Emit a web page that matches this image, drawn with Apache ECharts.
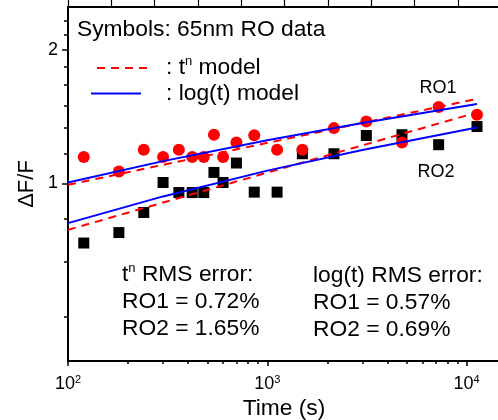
<!DOCTYPE html>
<html><head><meta charset="utf-8">
<script src="https://cdn.jsdelivr.net/npm/echarts@6/dist/echarts.min.js"></script>
<style>html,body{margin:0;padding:0;background:#fff}#c{width:498px;height:420px}</style>
</head><body><div id="c"></div>
<script>
// ---- data ----
const times = [120,180,240,300,360,420,480,540,600,700,860,1120,1500,2160,3140,4740,7240,11280];
const ro1 = [1.146,1.063,1.190,1.146,1.190,1.146,1.146,1.287,1.146,1.236,1.283,1.190,1.190,1.332,1.379,1.236,1.486,1.428];
const ro2 = [0.733,0.774,0.859,1.004,0.953,0.953,0.953,1.058,1.004,1.111,0.955,0.955,1.166,1.166,1.282,1.287,1.222,1.343];
const logFitTimes = [100,300,1000,3000,11280];
const ro1LogFit = [1.004,1.122,1.251,1.368,1.510];
const ro2LogFit = [0.813,0.934,1.068,1.189,1.336];
const powFitTimes = [100,11280];
const ro1PowFit = [0.992,1.551];
const ro2PowFit = [0.785,1.445];
const xMajorTicks = [100,1000,10000];
const xMinorTicks = [200,300,400,500,600,700,800,900,2000,3000,4000,5000,6000,7000,8000,9000];
const yLabelTicks = [1,2];
const yMinorTicks = [0.5,0.6667,0.8333,1.1667,1.3333,1.5,1.6667,1.8333,2.1667,2.3333];

const FONT = '"Liberation Sans", Arial, sans-serif';
const TXT = 22.8;
const zip = (xs, ys) => xs.map((x, i) => [x, ys[i]]);
const supLabel = v => '{b|10}{s|' + Math.round(Math.log10(v)) + '}';

const chart = echarts.init(document.getElementById('c'), null, {renderer: 'canvas'});
const axisLineStyle = {color: '#000', width: 2};
const tickStyle = {color: '#000', width: 1.5};
const X_MIN = 100, X_MAX = 14713, Y_MIN = 0.397, Y_MAX = 2.5;

chart.setOption({
  animation: false,
  backgroundColor: '#fff',
  textStyle: {fontFamily: FONT, color: '#000'},
  grid: {left: 68, right: -2, top: 7, bottom: 59, containLabel: false, outerBoundsMode: 'none'},
  xAxis: [
    {type: 'log', min: X_MIN, max: X_MAX, position: 'bottom',
     axisLine: {lineStyle: axisLineStyle},
     axisTick: {customValues: xMajorTicks, length: 5, inside: false, lineStyle: tickStyle},
     axisLabel: {customValues: xMajorTicks, margin: 13, formatter: supLabel,
       rich: {b: {fontSize: 18, fontFamily: FONT, color: '#000', lineHeight: 20},
              s: {fontSize: 11, fontFamily: FONT, color: '#000', verticalAlign: 'top', lineHeight: 11}}},
     splitLine: {show: false}, minorTick: {show: false},
     name: 'Time (s)', nameLocation: 'middle', nameGap: 36, nameMoveOverlap: false,
     nameTextStyle: {fontSize: TXT, fontFamily: FONT, color: '#000'}},
    {type: 'log', min: X_MIN, max: X_MAX, position: 'bottom',
     axisLine: {show: false},
     axisTick: {customValues: xMinorTicks, length: 3, inside: false, lineStyle: tickStyle},
     axisLabel: {show: false}, splitLine: {show: false}},
    {type: 'value', min: 0, max: 9.97, interval: 1, position: 'top',
     axisLine: {lineStyle: axisLineStyle},
     axisTick: {length: 7, inside: false, lineStyle: {color: '#000', width: 1.2}},
     axisLabel: {show: false}, splitLine: {show: false}}
  ],
  yAxis: [
    {type: 'log', min: Y_MIN, max: Y_MAX, position: 'left',
     axisLine: {lineStyle: axisLineStyle},
     axisTick: {customValues: yLabelTicks, length: 6, inside: false, lineStyle: tickStyle},
     axisLabel: {customValues: yLabelTicks, margin: 10, fontSize: 18, fontFamily: FONT, color: '#000'},
     splitLine: {show: false}, minorTick: {show: false},
     name: 'ΔF/F', nameLocation: 'middle', nameGap: 30, nameRotate: 90, nameMoveOverlap: false,
     nameTextStyle: {fontSize: 22, fontFamily: FONT, color: '#000'}},
    {type: 'log', min: Y_MIN, max: Y_MAX, position: 'left',
     axisLine: {show: false},
     axisTick: {customValues: yMinorTicks, length: 4, inside: false, lineStyle: tickStyle},
     axisLabel: {show: false}, splitLine: {show: false}}
  ],
  legend: [
    {data: ['tn'], left: 96, top: 55, padding: 0, itemWidth: 51, itemHeight: 14,
     itemStyle: {opacity: 0, color: 'rgba(0,0,0,0)', borderWidth: 0},
     formatter: () => '{g|}{a|: t}{s|n}{a| model}',
     textStyle: {rich: {g: {width: 13}, a: {fontSize: TXT, fontFamily: FONT, color: '#000', lineHeight: 26},
                        s: {fontSize: 13, fontFamily: FONT, color: '#000', verticalAlign: 'top', lineHeight: 13}}}},
    {data: ['log'], left: 90, top: 82, padding: 0, itemWidth: 50, itemHeight: 14,
     itemStyle: {opacity: 0, color: 'rgba(0,0,0,0)', borderWidth: 0},
     formatter: () => '{g|}{a|: log(t) model}',
     textStyle: {rich: {g: {width: 20}, a: {fontSize: TXT, fontFamily: FONT, color: '#000', lineHeight: 26}}}}
  ],
  graphic: [
    {type: 'text', x: 77, y: 30, style: {text: 'Symbols: 65nm RO data', fontSize: TXT, fontFamily: FONT, fill: '#000', verticalAlign: 'middle'}},
    {type: 'text', x: 438, y: 88, style: {text: 'RO1', fontSize: 18, fontFamily: FONT, fill: '#000', align: 'center', verticalAlign: 'middle'}},
    {type: 'text', x: 436, y: 172, style: {text: 'RO2', fontSize: 18, fontFamily: FONT, fill: '#000', align: 'center', verticalAlign: 'middle'}},
    {type: 'text', x: 122, y: 275, style: {text: '{a|t}{s|n}{a| RMS error:}', verticalAlign: 'middle',
      rich: {a: {fontSize: TXT, fontFamily: FONT, fill: '#000', lineHeight: 26}, s: {fontSize: 13, fontFamily: FONT, fill: '#000', verticalAlign: 'top', lineHeight: 13}}}},
    {type: 'text', x: 122, y: 302, style: {text: 'RO1 = 0.72%', fontSize: TXT, fontFamily: FONT, fill: '#000', verticalAlign: 'middle'}},
    {type: 'text', x: 122, y: 329, style: {text: 'RO2 = 1.65%', fontSize: TXT, fontFamily: FONT, fill: '#000', verticalAlign: 'middle'}},
    {type: 'text', x: 313, y: 276, style: {text: 'log(t) RMS error:', fontSize: TXT, fontFamily: FONT, fill: '#000', verticalAlign: 'middle'}},
    {type: 'text', x: 313, y: 303, style: {text: 'RO1 = 0.57%', fontSize: TXT, fontFamily: FONT, fill: '#000', verticalAlign: 'middle'}},
    {type: 'text', x: 313, y: 330, style: {text: 'RO2 = 0.69%', fontSize: TXT, fontFamily: FONT, fill: '#000', verticalAlign: 'middle'}}
  ],
  series: [
    {name: 'RO2 data', type: 'scatter', xAxisIndex: 0, yAxisIndex: 0, symbol: 'rect', symbolSize: 11,
     itemStyle: {color: '#000', opacity: 1}, data: zip(times, ro2)},
    {name: 'RO1 data', type: 'scatter', xAxisIndex: 0, yAxisIndex: 0, symbol: 'circle', symbolSize: 12,
     itemStyle: {color: '#ff0000', opacity: 1}, data: zip(times, ro1)},
    {name: 'tn', type: 'line', xAxisIndex: 0, yAxisIndex: 0, symbol: 'none', color: '#ff0000',
     lineStyle: {color: '#ff0000', width: 2, type: [8, 6]}, data: zip(powFitTimes, ro1PowFit)},
    {name: 'tn', type: 'line', xAxisIndex: 0, yAxisIndex: 0, symbol: 'none', color: '#ff0000',
     lineStyle: {color: '#ff0000', width: 2, type: [8, 6]}, data: zip(powFitTimes, ro2PowFit)},
    {name: 'log', type: 'line', xAxisIndex: 0, yAxisIndex: 0, symbol: 'none', color: '#0000ff',
     lineStyle: {color: '#0000ff', width: 2}, data: zip(logFitTimes, ro1LogFit)},
    {name: 'log', type: 'line', xAxisIndex: 0, yAxisIndex: 0, symbol: 'none', color: '#0000ff',
     lineStyle: {color: '#0000ff', width: 2}, data: zip(logFitTimes, ro2LogFit)}
  ]
});
</script></body></html>
